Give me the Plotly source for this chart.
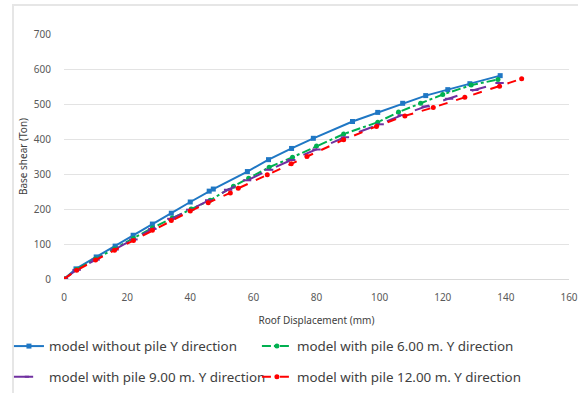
import plotly.graph_objects as go

# Pushover curves: roof displacement (mm) vs base shear (Ton)
disp_no_pile = [0, 3.8, 10.2, 16.2, 21.9, 28.0, 34.0, 40.0, 46.0, 47.3, 58.1, 64.8, 72.1, 79.0, 91.4, 99.4, 107.3, 114.6, 121.6, 128.6, 138.2]
shear_no_pile = [0, 29, 63, 94, 125, 157, 188, 220, 251, 257, 307, 341, 373, 402, 450, 476, 502, 524, 541, 558, 581]

disp_pile_6 = [0, 4.0, 10.0, 16.0, 22.0, 28.0, 34.3, 40.3, 46.3, 53.7, 58.5, 65.0, 72.4, 80.0, 88.6, 99.4, 106.0, 113.0, 120.0, 129.0, 137.5]
shear_pile_6 = [0, 27, 57, 86, 116, 146, 174, 200, 225, 265, 288, 319, 348, 380, 414, 448, 477, 502, 527, 554, 570]

disp_pile_9 = [0, 4.0, 10.0, 16.0, 22.0, 28.0, 34.0, 40.0, 46.0, 52.0, 58.0, 65.0, 72.0, 80.0, 89.0, 100.0, 107.0, 114.6, 122.0, 130.0, 138.0]
shear_pile_9 = [0, 26, 55, 84, 113, 143, 172, 198, 225, 255, 282, 312, 340, 370, 405, 442, 468, 493, 515, 540, 560]

disp_pile_12 = [0, 4.0, 10.0, 16.0, 22.0, 28.0, 34.0, 40.0, 45.7, 52.7, 55.2, 64.4, 72.0, 77.0, 88.6, 99.0, 108.0, 117.0, 127.0, 138.0, 145.0]
shear_pile_12 = [0, 25, 54, 82, 110, 139, 167, 194, 218, 246, 259, 298, 329, 350, 398, 436, 466, 490, 519, 551, 572]

x_ticks = [0, 20, 40, 60, 80, 100, 120, 140, 160]
y_ticks = [0, 100, 200, 300, 400, 500, 600, 700]

# name, x, y, colour, dash, marker symbol, marker size, legend id, legend x, legend y
series = [
    ("model without pile Y direction", disp_no_pile, shear_no_pile, "#1F77C4", "solid", "square", 5, "legend", -0.109, -0.275),
    ("model with pile 6.00 m. Y direction", disp_pile_6, shear_pile_6, "#00B050", "dashdot", "circle", 5, "legend2", 0.382, -0.275),
    ("model with pile 9.00 m. Y direction", disp_pile_9, shear_pile_9, "#7030A0", "longdash", "line-ew", 6, "legend3", -0.109, -0.40),
    ("model with pile 12.00 m. Y direction", disp_pile_12, shear_pile_12, "#FF0000", "dash", "circle", 5, "legend4", 0.382, -0.40),
]

FONT = "Noto Sans"
fig = go.Figure()
legends = {}
for name, xs, ys, color, dash, sym, msize, leg, lx, ly in series:
    fig.add_trace(go.Scatter(
        x=xs, y=ys, name=name, mode="lines+markers",
        line=dict(color=color, width=2, dash=dash),
        marker=dict(symbol=sym, size=msize, color=color,
                    line=dict(color=color, width=2 if sym == "line-ew" else 0)),
        legend=leg, showlegend=True,
    ))
    legends[leg] = dict(
        x=lx, y=ly, xanchor="left", yanchor="middle",
        font=dict(family=FONT, size=13.4, color="#404040"),
        itemwidth=30, bgcolor="rgba(0,0,0,0)",
    )

fig.update_layout(
    width=578, height=393,
    showlegend=True,
    margin=dict(l=64, r=9, t=34, b=114, autoexpand=False),
    paper_bgcolor="white", plot_bgcolor="white",
    font=dict(family=FONT, color="#595959", size=10),
    xaxis=dict(
        range=[0, 160], tickvals=x_ticks, showgrid=False, zeroline=False,
        showline=True, linecolor="#d9d9d9", linewidth=1, ticks="",
        ticklabelstandoff=9,
        tickfont=dict(size=10, color="#595959"),
        title=dict(text="Roof Displacement (mm)", standoff=13,
                   font=dict(size=10, color="#404040")),
    ),
    yaxis=dict(
        range=[0, 700], tickvals=y_ticks, showgrid=True, gridcolor="#e3e3e3",
        gridwidth=1, zeroline=False, ticks="", ticklabelstandoff=12,
        tickfont=dict(size=10, color="#595959"),
        title=dict(text="Base shear (Ton)", standoff=4,
                   font=dict(size=10, color="#404040")),
    ),
    shapes=[dict(type="rect", xref="paper", yref="paper",
                 x0=-0.101, x1=1.1, y0=-0.6, y1=1.118,
                 line=dict(color="#e6e6e6", width=2), layer="below")],
    **legends,
)

fig.write_html("out.html")
